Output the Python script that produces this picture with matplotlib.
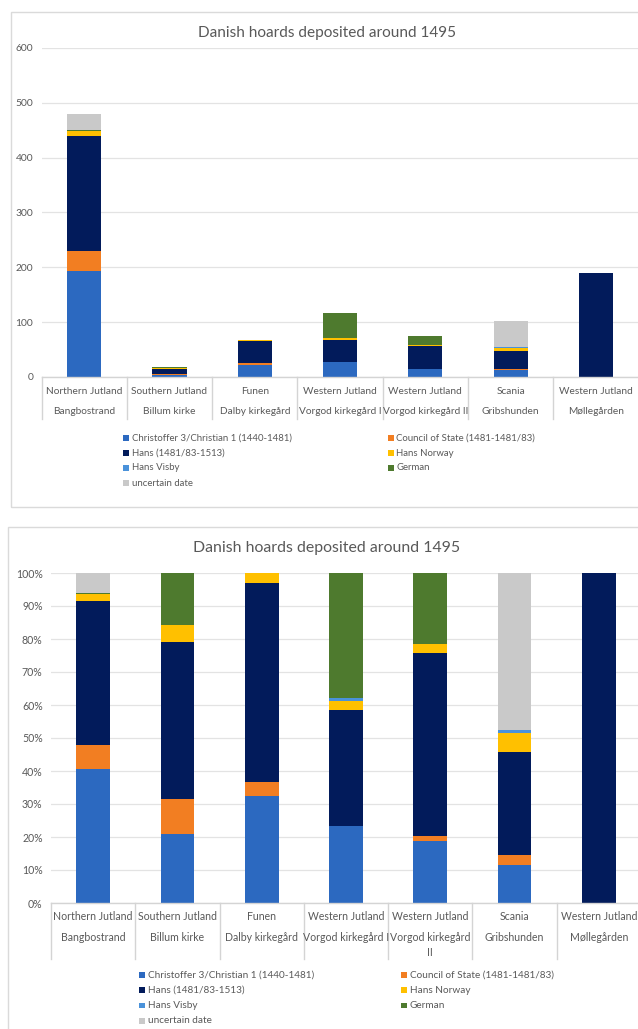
import matplotlib.pyplot as plt
import numpy as np
from matplotlib.patches import Rectangle
from matplotlib.ticker import FuncFormatter
from matplotlib.transforms import blended_transform_factory

plt.rcParams['font.family'] = ['Lato', 'DejaVu Sans']

regions = ['Northern Jutland', 'Southern Jutland', 'Funen', 'Western Jutland',
           'Western Jutland', 'Scania', 'Western Jutland']
sites = ['Bangbostrand', 'Billum kirke', 'Dalby kirkegård', 'Vorgod kirkegård I',
         'Vorgod kirkegård II', 'Gribshunden', 'Møllegården']
sites_wrapped = ['Bangbostrand', 'Billum kirke', 'Dalby kirkegård', 'Vorgod kirkegård I',
                 'Vorgod kirkegård\nII', 'Gribshunden', 'Møllegården']

series = ['Christoffer 3/Christian 1 (1440-1481)', 'Council of State (1481-1481/83)',
          'Hans (1481/83-1513)', 'Hans Norway', 'Hans Visby', 'German', 'uncertain date']
colours = ['#2C69C0', '#F27E22', '#021B5B', '#FFC000', '#4A92DA', '#4E7A2E', '#C9C9C9']

christoffer = [194, 4, 22, 27, 14, 12, 0]
council = [35, 2, 3, 0, 1, 3, 0]
hans = [210, 9, 41, 41, 41, 32, 190]
hans_norway = [10, 1, 2, 3, 2, 6, 0]
hans_visby = [0, 0, 0, 1, 0, 1, 0]
german = [1, 3, 0, 44, 16, 0, 0]
uncertain = [29, 0, 0, 0, 0, 49, 0]

counts = np.array([christoffer, council, hans, hans_norway, hans_visby, german, uncertain], dtype=float)
shares = counts / counts.sum(axis=0) * 100

W, H = 638, 1029
grey_text = '#595959'
line_grey = '#D4D4D4'


def fx(px):
    return px / W


def fy(py):
    return 1 - py / H


fig = plt.figure(figsize=(W / 100, H / 100), dpi=100)
fig.patch.set_facecolor('white')

# chart frames
fig.patches.append(Rectangle((fx(10.5), fy(507)), fx(700), (507 - 12) / H, transform=fig.transFigure,
                             fill=False, edgecolor='#DADADA', lw=1))
fig.patches.append(Rectangle((fx(8), fy(1040)), fx(700), (1040 - 527) / H, transform=fig.transFigure,
                             fill=False, edgecolor='#DADADA', lw=1))


def draw_chart(values, left, right, top, bottom, ymax, yticks, fmt, title_y, row_y, labels2,
               sep_end, legend_x, legend_x2, legend_y, sizes):
    tick_fs, cat_fs, leg_fs, title_fs = sizes
    ax = fig.add_axes([fx(left), fy(bottom), (right - left) / W, (bottom - top) / H])
    x = np.arange(len(regions))
    base = np.zeros(len(regions))
    for vals, col in zip(values, colours):
        ax.bar(x, vals, 0.4, bottom=base, color=col, linewidth=0, zorder=3)
        base += vals
    ax.set_xlim(-0.5, len(regions) - 0.5)
    ax.set_ylim(0, ymax)
    ax.set_yticks(yticks)
    ax.yaxis.set_major_formatter(FuncFormatter(fmt))
    ax.grid(axis='y', color='#E3E3E3', lw=0.9, zorder=0)
    for s in ax.spines.values():
        s.set_visible(False)
    ax.tick_params(axis='y', length=0, labelsize=tick_fs, labelcolor=grey_text, pad=6)
    ax.set_xticks([])
    ax.axhline(0, color=line_grey, lw=1, zorder=4, clip_on=False)

    tr = blended_transform_factory(ax.transData, fig.transFigure)
    for i in range(len(regions) + 1):
        ax.plot([i - 0.5, i - 0.5], [fy(bottom), fy(sep_end)], transform=tr, color=line_grey,
                lw=1, clip_on=False)
    for i in range(len(regions)):
        ax.text(i, fy(row_y[0]), regions[i], transform=tr, ha='center', va='center',
                fontsize=cat_fs, color=grey_text)
        ax.text(i, fy(row_y[1] - 6), labels2[i], transform=tr, ha='center', va='top',
                fontsize=cat_fs, color=grey_text, linespacing=1.45)

    fig.text(fx(327), fy(title_y), 'Danish hoards deposited around 1495', ha='center', va='center',
             fontsize=title_fs, color=grey_text)

    for k, (name, col) in enumerate(zip(series, colours)):
        lx = legend_x if k % 2 == 0 else legend_x2
        ly = legend_y[0] + (k // 2) * legend_y[1]
        fig.patches.append(Rectangle((fx(lx), fy(ly + 2.8)), 5.8 / W, 5.8 / H,
                                     transform=fig.transFigure, color=col, lw=0))
        fig.text(fx(lx + 8.5), fy(ly), name, ha='left', va='center', fontsize=leg_fs, color=grey_text)
    return ax


draw_chart(counts, 41.5, 638.6, 48, 377, 600, np.arange(0, 601, 100), lambda v, p: '%d' % v,
           33, (392, 413), sites, 419, 123, 388, (438, 15), (7.4, 7.3, 6.9, 11.1))
draw_chart(shares, 51, 641, 573, 903, 100, np.arange(0, 101, 10), lambda v, p: '%d%%' % v,
           548, (917, 938), sites_wrapped, 959, 139, 401, (975, 15.3), (7.6, 7.6, 7.2, 11.4))

fig.savefig('out.png', dpi=100)
